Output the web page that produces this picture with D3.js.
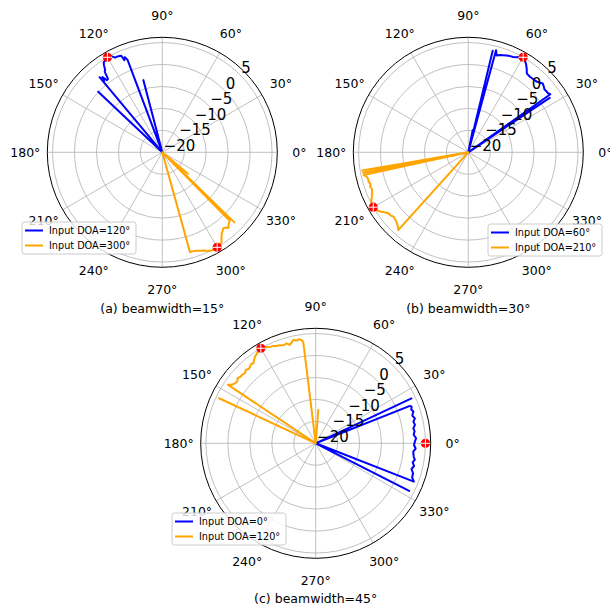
<!DOCTYPE html>
<html>
<head>
<meta charset="utf-8">
<script src="https://cdn.jsdelivr.net/npm/d3@7"></script>
<style>
  html, body { margin: 0; padding: 0; background: #fff; }
  svg { display: block; font-family: 'DejaVu Sans', sans-serif; }
</style>
</head>
<body>
<svg id="chart" width="610" height="604"></svg>
<script>
// radial ticks (dB) and angular ticks (deg)
const rTicks = [-20, -15, -10, -5, 0, 5];
const thetaTicks = [0, 30, 60, 90, 120, 150, 180, 210, 240, 270, 300, 330];
const markerLevel = 5;

// (a) beamwidth=15°
const aBlueAngles = [103, 104.7, 106, 109.8, 110.6, 111.5, 112.4, 113, 114, 115, 116.5, 118, 119, 120, 121, 122, 123, 123.8, 124.8, 125.5, 126.5, 127.5, 128.5, 129.3, 129.9, 130.7, 135.8, 136.6, 137.4];
const aBlueValues = [-20, -3.0, -20, -20, 2.5, 3.3, 2.7, 3.9, 4.0, 4.1, 4.1, 4.8, 4.9, 5.1, 4.8, 4.6, 4.5, 3.9, 2.8, 2.6, 0.8, 0.7, 1.9, 0.9, 2.3, -20, -20, 0.1, -20];
const aOrangeAngles = [284.8, 285.5, 287, 289, 291, 293, 295, 296.5, 298, 300, 301.5, 302.5, 303.6, 305, 306.3, 307.5, 308.7, 310, 311.3, 312.3, 313.5, 314.6, 315.2, 315.8, 316.4, 319.6, 320.2, 320.8];
const aOrangeValues = [-20, 3.6, 3.6, 3.7, 4.0, 4.3, 4.8, 5.0, 5.1, 5.3, 5.0, 4.7, 4.4, 3.5, 2.9, 2.6, 2.2, 2.4, 2.9, 2.4, 2.1, 1.9, -20, 2.9, -20, -20, -12.4, -20];
const aDoa = [120, 300];

// (b) beamwidth=30°
const bBlueAngles = [32.5, 33.8, 34.5, 35.3, 36.5, 38, 39.5, 41, 42.8, 44.5, 46, 48, 50.8, 52.5, 53.5, 55, 56.5, 58.2, 60, 61.5, 63, 64.8, 66.5, 68.5, 70.2, 72, 73.7, 74.8, 75.5, 76.5, 77.3, 78.3, 78.8, 79.3];
const bBlueValues = [-20, 2.3, -20, 2.9, 2.6, 2.6, 2.5, 2.8, 3.1, 2.7, 2.4, 2.3, 2.2, 2.3, 2.4, 3.2, 3.9, 4.5, 5.0, 4.7, 4.3, 4.0, 3.9, 3.7, 3.5, 3.3, 3.0, 4.1, -20, 3.8, -20, -20, -14.8, -20];
const bOrangeAngles = [188.8, 189.8, 190.4, 191.0, 191.6, 192.2, 193.5, 195, 196.4, 198, 199.3, 201, 203, 204.7, 206.5, 208.5, 210.4, 212, 213.9, 215.5, 217.3, 219, 220.7, 222.5, 224.8, 226.5, 228, 228.8];
const bOrangeValues = [-20, 4.5, -20, 4.4, -20, 4.4, 3.8, 3.6, 3.7, 3.4, 3.7, 3.5, 3.8, 4.2, 4.7, 5.0, 5.3, 4.8, 4.2, 3.5, 2.9, 2.8, 2.5, 2.6, 2.9, 3.3, 3.8, -20];
const bDoa = [60, 210];

// (c) beamwidth=45°
const cBlueAngles = [-28.2, -27, -25.8, -22, -21.3, -19.5, -17.1, -15, -13, -11, -9.5, -7.5, -4.9, -3, -1, 1, 2.9, 5, 7, 8.7, 10.5, 12.5, 14.1, 16, 18, 19.5, 20.9, 21.7, 22.5, 24.3, 25.1, 25.9];
const cBlueValues = [-20, 3.9, -20, -20, 4.0, 3.3, 3.2, 2.6, 3.0, 2.5, 2.9, 2.5, 2.3, 2.8, 2.4, 2.6, 2.9, 2.4, 2.7, 2.5, 3.0, 2.8, 3.3, 2.9, 3.4, 3.1, 3.4, 3.1, -20, -20, 4.1, -20];
const cOrangeAngles = [84.9, 85.5, 86.1, 96.3, 97, 97.7, 99, 100.5, 102.2, 103.5, 104.7, 106.2, 108, 110, 112, 113.5, 115, 116.9, 118.5, 120, 121.5, 123, 125, 126.5, 127.9, 129, 130.6, 132, 133.5, 135.3, 137, 138.7, 140, 141.5, 143.4, 145, 146.3, 147, 154.2, 155, 155.8];
const cOrangeValues = [-20, -12.4, -20, -20, 3.1, 3.7, 4.0, 3.8, 4.1, 3.6, 3.2, 3.7, 3.5, 3.8, 3.9, 4.2, 4.3, 4.6, 4.8, 5.0, 4.8, 4.5, 4.1, 3.6, 3.1, 3.3, 3.0, 2.8, 3.1, 2.7, 2.9, 2.9, 3.2, 2.8, 2.9, 3.3, 4.0, -20, -20, 4.3, -20];
const cDoa = [0, 120];

const captions = ['(a) beamwidth=15°', '(b) beamwidth=30°', '(c) beamwidth=45°'];
const colors = ['#0000ff', '#ffa500'];

const R = 115;
const rScale = d3.scaleLinear().domain([-20, 6.2]).range([0, R]);
// lineRadial measures clockwise from north, plot uses counter-clockwise from east
const toRad = deg => (90 - deg) * Math.PI / 180;
const fmt = v => (v < 0 ? '\u2212' + Math.abs(v) : String(v));

const svg = d3.select('#chart');

const panels = [
  { cx: 162.3, cy: 152.3, caption: captions[0], capY: 308, legend: [22, 222],
    series: [[aBlueAngles, aBlueValues], [aOrangeAngles, aOrangeValues]], doa: aDoa },
  { cx: 468.3, cy: 152.3, caption: captions[1], capY: 308, legend: [488, 224],
    series: [[bBlueAngles, bBlueValues], [bOrangeAngles, bOrangeValues]], doa: bDoa },
  { cx: 315.7, cy: 443.3, caption: captions[2], capY: 598, legend: [172, 513],
    series: [[cBlueAngles, cBlueValues], [cOrangeAngles, cOrangeValues]], doa: cDoa }
];

function drawPanel(p) {
  const g = svg.append('g').attr('transform', `translate(${p.cx},${p.cy})`);

  g.selectAll('.ring')
    .data(rTicks.filter(t => rScale(t) > 0.5))
    .enter().append('circle')
    .attr('class', 'ring')
    .attr('r', d => rScale(d))
    .attr('fill', 'none')
    .attr('stroke', '#b0b0b0')
    .attr('stroke-width', 0.8);

  g.selectAll('.spoke')
    .data(thetaTicks)
    .enter().append('line')
    .attr('class', 'spoke')
    .attr('x1', 0).attr('y1', 0)
    .attr('x2', d => d3.pointRadial(toRad(d), R)[0])
    .attr('y2', d => d3.pointRadial(toRad(d), R)[1])
    .attr('stroke', '#b0b0b0')
    .attr('stroke-width', 0.8);

  g.append('circle')
    .attr('r', R)
    .attr('fill', 'none')
    .attr('stroke', '#000')
    .attr('stroke-width', 1);

  g.selectAll('.tlabel')
    .data(thetaTicks)
    .enter().append('text')
    .attr('class', 'tlabel')
    .attr('x', d => d3.pointRadial(toRad(d), 137)[0])
    .attr('y', d => d3.pointRadial(toRad(d), 137)[1])
    .attr('text-anchor', 'middle')
    .attr('dominant-baseline', 'central')
    .attr('font-size', '12.5px')
    .text(d => d + '°');

  const line = d3.lineRadial()
    .angle(d => toRad(d[0]))
    .radius(d => rScale(d[1]));

  p.series.forEach((s, i) => {
    g.append('path')
      .datum(d3.zip(s[0], s[1]))
      .attr('d', line)
      .attr('fill', 'none')
      .attr('stroke', colors[i])
      .attr('stroke-width', 2)
      .attr('stroke-linejoin', 'round');
  });

  p.doa.forEach(a => {
    const [x, y] = d3.pointRadial(toRad(a), rScale(markerLevel));
    g.append('circle').attr('cx', x).attr('cy', y).attr('r', 4.6).attr('fill', '#ff0000');
    g.append('line').attr('x1', x - 4.6).attr('x2', x + 4.6).attr('y1', y).attr('y2', y)
      .attr('stroke', '#fff').attr('stroke-width', 1);
    g.append('line').attr('x1', x).attr('x2', x).attr('y1', y - 4.6).attr('y2', y + 4.6)
      .attr('stroke', '#fff').attr('stroke-width', 1);
  });

  g.selectAll('.rlabel')
    .data(rTicks)
    .enter().append('text')
    .attr('class', 'rlabel')
    .attr('x', d => (rScale(d) + 2) * Math.SQRT1_2)
    .attr('y', d => -(rScale(d) + 2) * Math.SQRT1_2)
    .attr('font-size', '15px')
    .text(fmt);

  const lg = svg.append('g').attr('transform', `translate(${p.legend[0]},${p.legend[1]})`);
  lg.append('rect')
    .attr('width', 114).attr('height', 32).attr('rx', 2.5)
    .attr('fill', '#fff').attr('fill-opacity', 0.8)
    .attr('stroke', '#cccccc').attr('stroke-width', 1);
  p.doa.forEach((a, i) => {
    const y = 8.5 + i * 15;
    lg.append('line').attr('x1', 3).attr('x2', 21).attr('y1', y).attr('y2', y)
      .attr('stroke', colors[i]).attr('stroke-width', 2);
    lg.append('text').attr('x', 27).attr('y', y)
      .attr('dominant-baseline', 'central')
      .attr('font-size', '9.7px')
      .text('Input DOA=' + a + '°');
  });

  svg.append('text')
    .attr('x', p.cx).attr('y', p.capY)
    .attr('text-anchor', 'middle')
    .attr('dominant-baseline', 'central')
    .attr('font-size', '12.5px')
    .text(p.caption);
}

panels.forEach(drawPanel);
</script>
</body>
</html>
